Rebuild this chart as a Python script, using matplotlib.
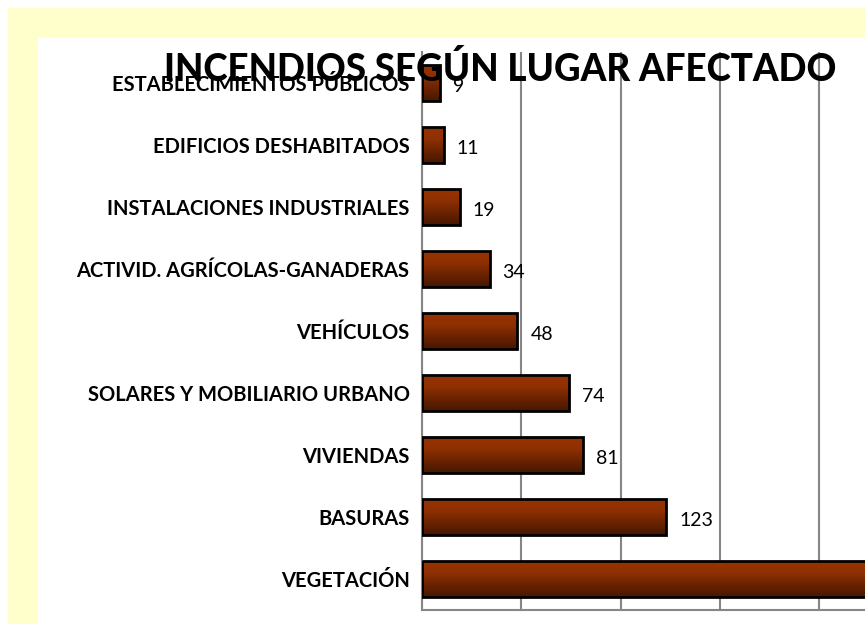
import numpy as np
import matplotlib
matplotlib.use("Agg")
import matplotlib.pyplot as plt
from matplotlib.patches import Rectangle
from matplotlib.colors import LinearSegmentedColormap

categories = ["ESTABLECIMIENTOS PÚBLICOS", "EDIFICIOS DESHABITADOS", "INSTALACIONES INDUSTRIALES",
              "ACTIVID. AGRÍCOLAS-GANADERAS", "VEHÍCULOS", "SOLARES Y MOBILIARIO URBANO",
              "VIVIENDAS", "BASURAS", "VEGETACIÓN"]
values = [9, 11, 19, 34, 48, 74, 81, 123, 250]
title = "INCENDIOS SEGÚN LUGAR AFECTADO"

W, H = 865, 624
fig = plt.figure(figsize=(W / 100, H / 100), dpi=100)
fig.patch.set_facecolor("white")

# yellow frame and white panel
fig.patches.append(Rectangle((8 / W, 0), 1, (H - 8) / H, transform=fig.transFigure,
                             facecolor="#FFFFCC", edgecolor="none", zorder=-2))
fig.patches.append(Rectangle((38 / W, 0), 1, (H - 38) / H, transform=fig.transFigure,
                             facecolor="white", edgecolor="none", zorder=-1))

px_per_unit = 1.986
xmax = 300
left_px, top_px, bottom_px = 422, 52, 610
ax = fig.add_axes([left_px / W, (H - bottom_px) / H, xmax * px_per_unit / W, (bottom_px - top_px) / H])
ax.set_facecolor("none")
ax.set_xlim(0, xmax)
ax.set_ylim(len(categories) - 0.5, -0.5)

y = np.arange(len(categories))
bars = ax.barh(y, values, height=0.58, facecolor="none", edgecolor="black", linewidth=2, zorder=3)

cmap = LinearSegmentedColormap.from_list("brown", ["#9A3300", "#8E3000", "#6A2200", "#471800"])
grad = np.linspace(0, 1, 100).reshape(-1, 1)
for b in bars:
    x0, yb = b.get_x(), b.get_y()
    w, h = b.get_width(), b.get_height()
    im = ax.imshow(grad, cmap=cmap, aspect="auto", extent=(x0, x0 + w, yb + h, yb),
                   origin="upper", zorder=2)
    im.set_clip_path(b)

ax.set_xticks(np.arange(0, xmax + 1, 50))
ax.xaxis.grid(True, color="#868686", linewidth=1.5, zorder=1)
ax.set_axisbelow(True)
ax.tick_params(axis="x", length=0, labelbottom=False)
ax.tick_params(axis="y", length=0, pad=9)
for s in ["top", "right"]:
    ax.spines[s].set_visible(False)
for s in ["left", "bottom"]:
    ax.spines[s].set_color("#868686")
    ax.spines[s].set_linewidth(1.5)
ax.set_yticks(y)
ax.set_yticklabels(categories, fontfamily="Lato", fontweight="bold", fontsize=14.5)

for yi, v in zip(y, values):
    ax.annotate(str(v), xy=(v, yi), xytext=(13, -4), textcoords="offset pixels",
                ha="left", va="center", fontfamily="Lato", fontsize=14, zorder=4)

fig.text(500 / W, (H - 81) / H, title, ha="center", va="baseline",
         fontfamily="Lato", fontweight="black", fontsize=26.5, zorder=5)

fig.savefig("out.png", dpi=100)
